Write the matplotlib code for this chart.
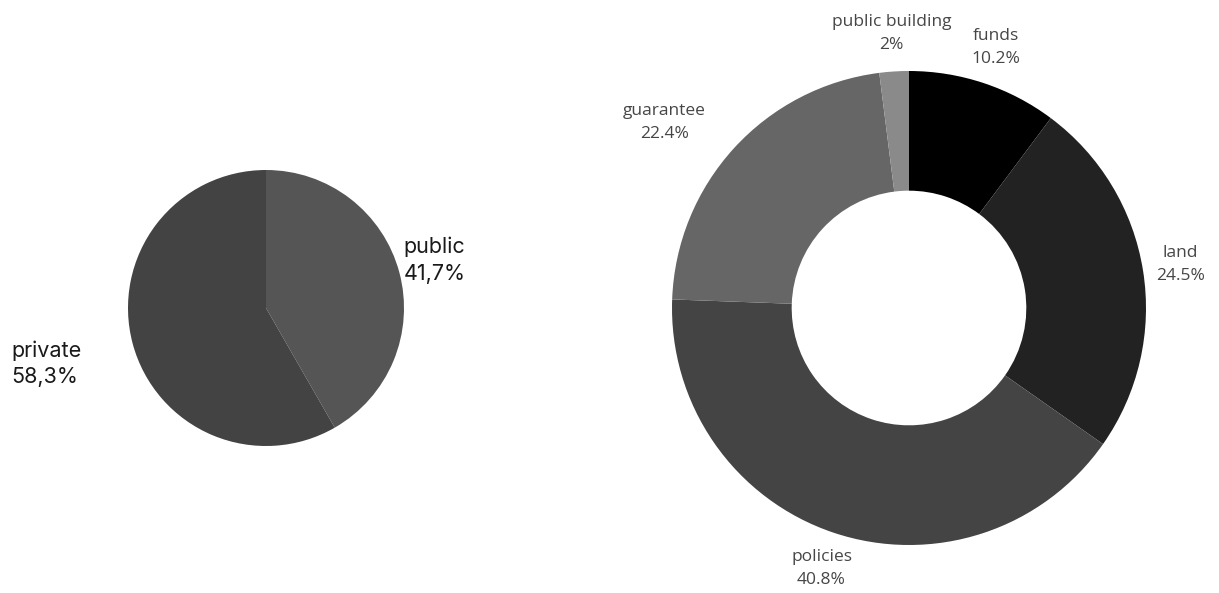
import numpy as np
import matplotlib
matplotlib.use("Agg")
import matplotlib.pyplot as plt

# ownership split
own_labels = ["public", "private"]
own_shares = [41.7, 58.3]
own_text = ["41,7%", "58,3%"]
own_colors = ["#555555", "#434343"]

# breakdown by instrument
src_labels = ["funds", "land", "policies", "guarantee", "public building"]
src_shares = [10.2, 24.5, 40.8, 22.4, 2.0]
src_colors = ["#000000", "#222222", "#444444", "#666666", "#8a8a8a"]

W, H = 1219, 593
fig = plt.figure(figsize=(W / 100, H / 100), dpi=100)


def box(cx, cy, r):
    # axes rectangle (figure fraction) for a pie centred at pixel cx, cy
    return [(cx - r) / W, (H - cy - r) / H, 2 * r / W, 2 * r / H]


def mid_angles(vals):
    v = np.asarray(vals, float)
    cum = np.cumsum(v) - v / 2
    return np.deg2rad(90 - cum / v.sum() * 360)


# left pie
ax1 = fig.add_axes(box(266, 308, 138))
ax1.pie(own_shares, colors=own_colors, startangle=90, counterclock=False,
        radius=1, wedgeprops=dict(linewidth=0))
ax1.set_xlim(-1, 1)
ax1.set_ylim(-1, 1)
ax1.set_aspect("equal")
ax1.axis("off")

ang = mid_angles(own_shares)
left_place = [(1.03, 0.08, "left"), (1.38, -0.05, "right")]
for a, lab, txt, (r, dy, ha) in zip(ang, own_labels, own_text, left_place):
    ax1.text(r * np.cos(a), r * np.sin(a) + dy, f"{lab}\n{txt}", ha=ha, va="center",
             multialignment="left", fontsize=15.5, family="Inter", color="#1a1a1a",
             linespacing=1.4, clip_on=False)

# right donut
ax2 = fig.add_axes(box(909, 308, 237))
ax2.pie(src_shares, colors=src_colors, startangle=90, counterclock=False,
        radius=1, wedgeprops=dict(width=0.505, linewidth=0))
ax2.set_xlim(-1, 1)
ax2.set_ylim(-1, 1)
ax2.set_aspect("equal")
ax2.axis("off")

ang = mid_angles(src_shares)
right_ha = ["center", "center", "center", "right", "center"]
for a, lab, v, ha in zip(ang, src_labels, src_shares, right_ha):
    txt = f"{v:g}%"
    ax2.text(1.16 * np.cos(a), 1.16 * np.sin(a), f"{lab}\n{txt}", ha=ha, va="center",
             multialignment="center", fontsize=12.5, family="Open Sans",
             color="#464646", linespacing=1.6, clip_on=False)

fig.savefig("out.png", dpi=100, facecolor="white")
